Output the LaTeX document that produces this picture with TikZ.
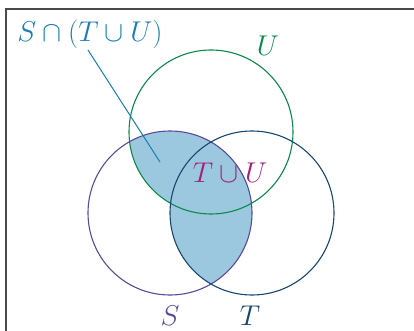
\documentclass[tikz,border=0pt]{standalone}
\usepackage{amsmath}
\usepackage{graphicx}
\definecolor{ucol}{HTML}{0A8A4A}
\definecolor{scol}{HTML}{5B4A9B}
\definecolor{tcol}{HTML}{17466E}
\definecolor{mcol}{HTML}{A0227E}
\definecolor{lcol}{HTML}{1A7DB5}
\definecolor{fillcol}{HTML}{9CC8DF}
\definecolor{framecol}{HTML}{4A4A4A}
\newcommand{\biglab}[1]{\scalebox{1.15}{$#1$}}
\begin{document}
\begin{tikzpicture}[x=1pt,y=-1pt,
  setcirc/.style={line width=1.1pt},
  biglabel/.style={inner sep=0pt,anchor=base,font=\fontsize{24.88}{30}\selectfont}]
\useasboundingbox (0,0) rectangle (414,331);
% frame
\draw[framecol,line width=1.5pt] (6,340) -- (6,9) -- (420,9);
% fill S cap (T cup U)
\begin{scope}
  \clip (170,213) circle[radius=82];
  \fill[fillcol] (252,213) circle[radius=82];
  \fill[fillcol] (211,132) circle[radius=82];
\end{scope}
% circles
\draw[setcirc,ucol] (211,132) circle[radius=82];
\draw[setcirc,scol] (170,213) circle[radius=82];
\draw[setcirc,tcol] (252,213) circle[radius=82];
% labels
\node[biglabel,text=ucol] (ulab) at (268,56) {\biglab{U}};
\node[biglabel,text=scol] (slab) at (170,325) {\biglab{S}};
\node[biglabel,text=tcol] (tlab) at (250,325) {\biglab{T}};
\node[biglabel,text=mcol] (tulab) at (230,182) {\biglab{T\cup U}};
\node[biglabel,text=lcol] (reslab) at (90,42) {\biglab{S\cap(T\cup U)}};
\coordinate (pt) at (160,162);
\draw[lcol,line width=1pt] (88,50) -- (pt);
\end{tikzpicture}
\end{document}
